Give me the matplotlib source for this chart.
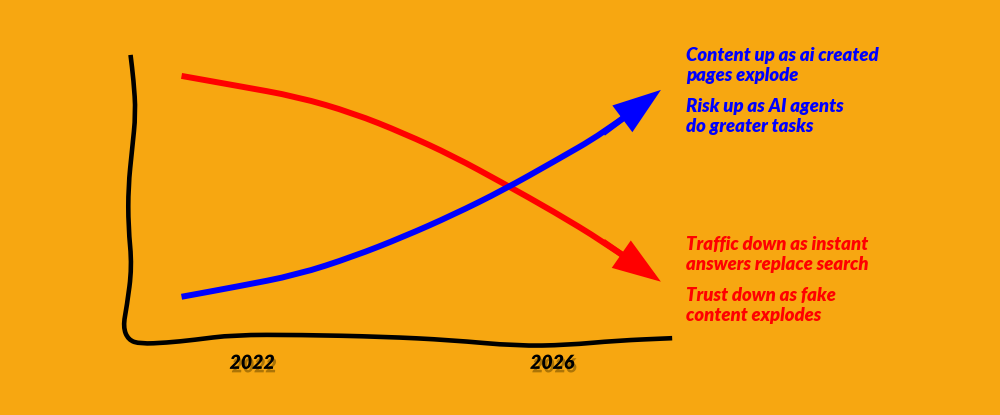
import numpy as np
import matplotlib.pyplot as plt
import matplotlib.patheffects as pe
from matplotlib.path import Path
from matplotlib.patches import PathPatch, FancyArrowPatch

# trend values (year vs. relative level 0-100)
years = [2021.06, 2021.80, 2022.60, 2023.35, 2024.02, 2024.68, 2025.35, 2026.02, 2026.68]
traffic_trust = [88.0, 84.7, 81.1, 75.6, 68.9, 61.3, 52.2, 42.8, 32.8]
content_risk = [14.4, 17.8, 21.7, 27.8, 34.4, 41.7, 50.0, 59.4, 68.9]
tip_year = 2027.48
red_tip = 18.9
blue_tip = 83.9

tick_years = [2022, 2026]
tick_labels = ["2022", "2026"]

blue_notes = ["Content up as ai created\npages explode", "Risk up as AI agents\ndo greater tasks"]
red_notes = ["Traffic down as instant\nanswers replace search", "Trust down as fake\ncontent explodes"]

# hand drawn axis wobble
axis_x = [2020.38, 2020.42, 2020.45, 2020.40, 2020.35, 2020.35, 2020.40, 2020.33, 2020.28, 2020.35,
          2020.51, 2020.86, 2021.22, 2021.75, 2022.64, 2023.75, 2024.64, 2025.53, 2026.20, 2026.86, 2027.60]
axis_y = [95.0, 86.7, 75.6, 63.3, 51.1, 37.8, 24.4, 11.1, 4.4, 0.0,
          -1.3, -0.9, 0.0, 1.7, 1.7, 1.1, 0.0, -2.0, -1.7, -0.2, 0.6]


def smooth_path(xs, ys, end_frac=1.0):
    # quadratic bezier through midpoints, so the sketch has no corners
    pts = list(zip(xs, ys))
    verts = [pts[0]]
    codes = [Path.MOVETO]
    mids = [((a[0] + b[0]) / 2, (a[1] + b[1]) / 2) for a, b in zip(pts[:-1], pts[1:])]
    verts.append(mids[0])
    codes.append(Path.LINETO)
    for p, m in zip(pts[1:-1], mids[1:]):
        verts += [p, m]
        codes += [Path.CURVE3, Path.CURVE3]
    a, b = pts[-2], pts[-1]
    verts.append((a[0] + (b[0] - a[0]) * end_frac, a[1] + (b[1] - a[1]) * end_frac))
    codes.append(Path.LINETO)
    return Path(verts, codes)


bg = "#F7A711"
fig = plt.figure(figsize=(10, 4.15), dpi=100, facecolor=bg)
ax = fig.add_axes([0, 0, 1, 1], facecolor=bg)
ax.set_xlim(2018.64, 2031.97)
ax.set_ylim(-25, 113.3)
ax.axis("off")

ax.add_patch(PathPatch(smooth_path(axis_x, axis_y), fill=False, edgecolor="black", lw=3.3,
                       capstyle="butt", joinstyle="round"))

for ys, tip, col in [(traffic_trust, red_tip, "#FF0000"), (content_risk, blue_tip, "#0000FF")]:
    ax.add_patch(PathPatch(smooth_path(years + [tip_year], ys + [tip], end_frac=0.5),
                           fill=False, edgecolor=col, lw=4.3, capstyle="butt"))
    ax.add_patch(FancyArrowPatch((years[-1], ys[-1]), (tip_year, tip),
                                 arrowstyle="-|>,head_length=2.6,head_width=0.9", mutation_scale=10,
                                 color=col, lw=4.3, shrinkA=0, shrinkB=2, joinstyle="miter",
                                 capstyle="butt"))

shadow = [pe.withSimplePatchShadow(offset=(1.5, -2.5), shadow_rgbFace="#7a5200", alpha=0.6)]
for yr, lab in zip(tick_years, tick_labels):
    ax.text(yr, -7.8, lab, ha="center", va="center", fontsize=14, fontweight="heavy",
            style="italic", family="Lato", color="black", path_effects=shadow)

font = dict(fontsize=13.3, fontweight="heavy", style="italic", family="Lato", linespacing=1.2)
for i, note in enumerate(blue_notes):
    fig.text(0.686, 1 - (47 + i * 51) / 415, note, color="#0000FF", va="top", **font)
for i, note in enumerate(red_notes):
    fig.text(0.686, 1 - (236 + i * 51) / 415, note, color="#FF0000", va="top", **font)

fig.savefig("out.png", dpi=100, facecolor=bg)
